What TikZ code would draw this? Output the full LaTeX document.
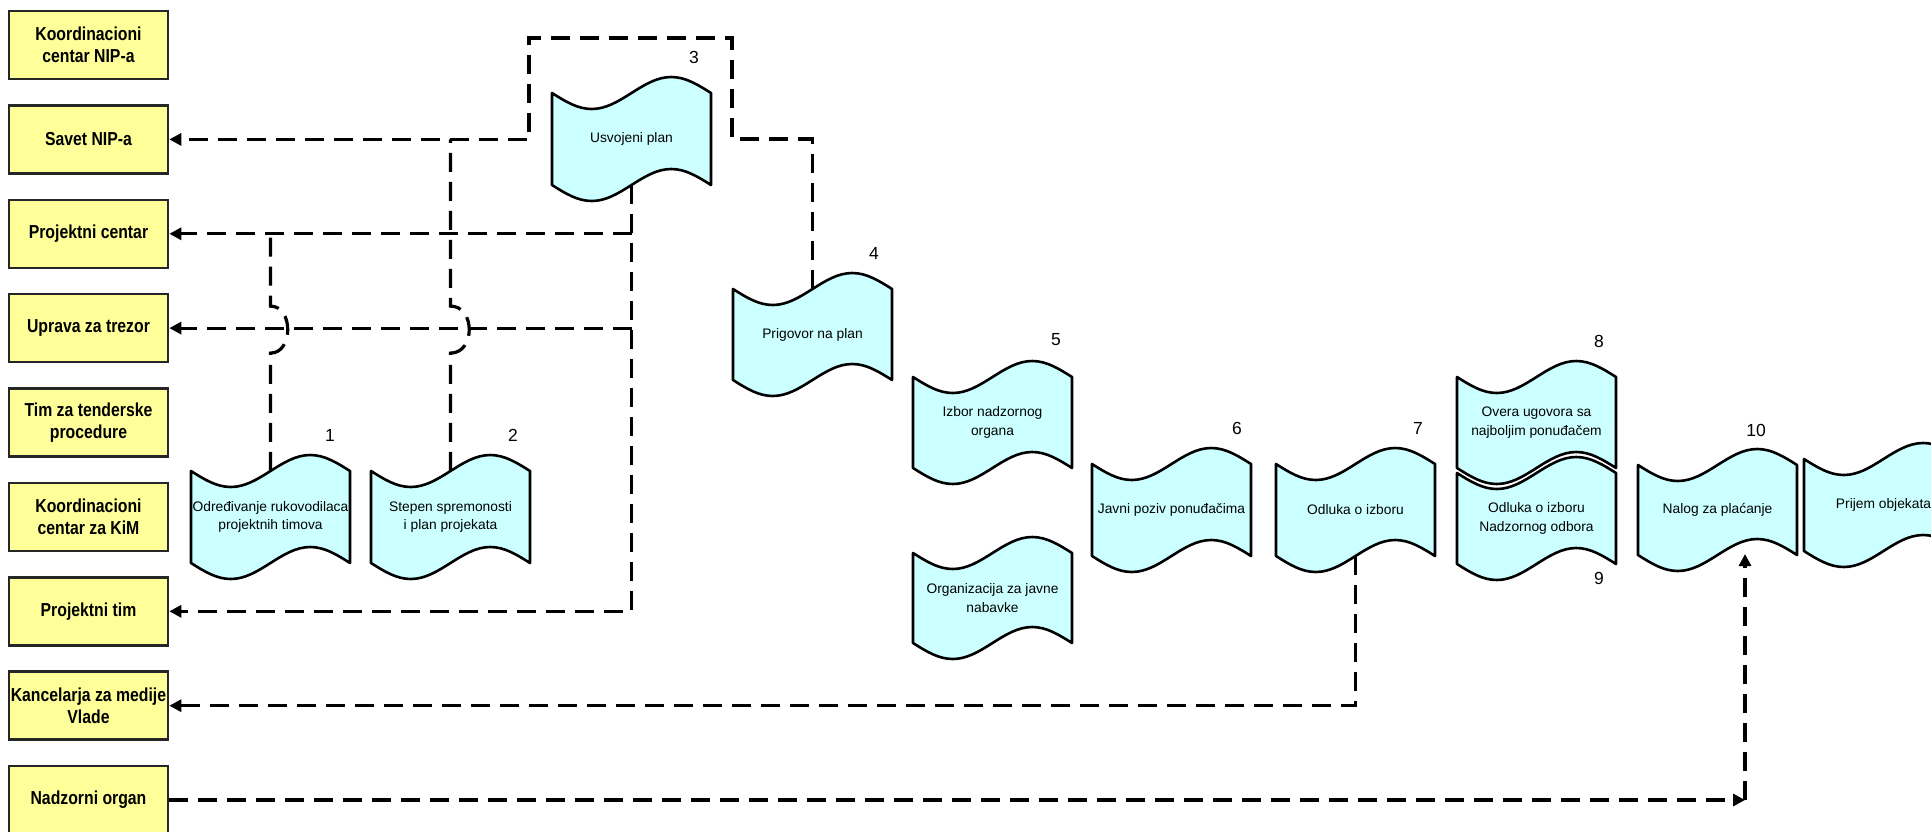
\documentclass[tikz,border=0pt]{standalone}
\usepackage{fontspec}
\setmainfont{Liberation Sans}
\newfontfamily\boxfont[FakeStretch=0.84]{Liberation Sans}
\usetikzlibrary{arrows.meta,calc}
\definecolor{boxyellow}{HTML}{FFFF99}
\definecolor{tapecyan}{HTML}{CCFFFF}
\tikzset{
  ybox/.style={draw=black!85, line width=2.6pt, fill=boxyellow,
    minimum width=159pt, minimum height=68pt, inner sep=0pt, align=center,
    font=\boxfont\bfseries\fontsize{18.8}{21.7}\selectfont},
  tapeshape/.style={draw=black, fill=tapecyan, line width=2.6pt, line join=round},
  tapetext/.style={minimum width=159pt, inner sep=0pt, align=center,
    font=\fontsize{13.8}{18.8}\selectfont},
  num/.style={font=\fontsize{17.5}{20}\selectfont, inner sep=0pt},
  dashline/.style={line width=3.2pt, dash pattern=on 19pt off 10pt},
  conn/.style={dashline, -{Triangle[length=12pt,width=12pt]}},
}
% paper-tape document: name, left x, top line, bottom line, text
\newcommand\papertape[5]{%
  \filldraw[tapeshape] (#2,#3)
    sin ({#2+39.75},{#3+16}) cos ({#2+79.5},#3)
    sin ({#2+119.25},{#3-16}) cos ({#2+159},#3)
    -- ({#2+159},#4)
    sin ({#2+119.25},{#4-16}) cos ({#2+79.5},#4)
    sin ({#2+39.75},{#4+16}) cos (#2,#4) -- cycle;
  \node[tapetext, minimum height={#4-#3}] (#1) at ({#2+79.5},{(#3+#4)/2}) {#5};
}
\begin{document}
\begin{tikzpicture}[x=1pt,y=-1pt]
\useasboundingbox (0,0) rectangle (1931,831);
\clip (0,0) rectangle (1931,831);

% participants
\node[ybox] (kc)  at (88.5,45)    {Koordinacioni\\centar NIP-a};
\node[ybox] (sv)  at (88.5,139.4) {Savet NIP-a};
\node[ybox] (pc)  at (88.5,233.8) {Projektni centar};
\node[ybox] (ut)  at (88.5,328.1) {Uprava za trezor};
\node[ybox] (tt)  at (88.5,422.5) {Tim za tenderske\\procedure};
\node[ybox] (kk)  at (88.5,516.9) {Koordinacioni\\centar za KiM};
\node[ybox] (pt)  at (88.5,611.3) {Projektni tim};
\node[ybox] (km)  at (88.5,705.7) {Kancelarja za medije\\Vlade};
\node[ybox] (no)  at (88.5,800)   {Nadzorni organ};

% documents
\papertape{d1}{191}{471}{563}{Određivanje rukovodilaca\\projektnih timova}
\papertape{d2}{371}{471}{563}{Stepen spremonosti\\i plan projekata}
\papertape{d3}{552}{93}{185}{Usvojeni plan}
\papertape{d4}{733}{289}{380}{Prigovor na plan}
\papertape{d5}{913}{377}{468}{Izbor nadzornog\\organa}
\papertape{dj}{913}{553}{643}{Organizacija za javne\\nabavke}
\papertape{d6}{1092}{464}{556}{Javni poziv ponuđačima}
\papertape{d7}{1276}{464}{556}{Odluka o izboru}
\papertape{d8}{1457}{377}{468}{Overa ugovora sa\\najboljim ponuđačem}
\papertape{d9}{1457}{473}{564}{Odluka o izboru\\Nadzornog odbora}
\papertape{d10}{1638}{465}{555}{Nalog za plaćanje}
\papertape{d11}{1804}{459}{551}{Prijem objekata}

% step numbers
\node[num] (n1)  at (330,435)  {1};
\node[num] (n2)  at (513,435)  {2};
\node[num] (n3)  at (694,57)   {3};
\node[num] (n4)  at (874,253)  {4};
\node[num] (n5)  at (1056,340) {5};
\node[num] (n6)  at (1237,428) {6};
\node[num] (n7)  at (1418,428) {7};
\node[num] (n8)  at (1599,341) {8};
\node[num] (n9)  at (1599,578) {9};
\node[num] (n10) at (1756,430) {10};

% loop from the objection round the adopted plan to the council
\coordinate (q1) at (732,139);
\coordinate (q2) at (732,38);
\coordinate (q3) at (529,38);
\draw[conn] (d4.north) |- (q1) -- (q2) -- (q3) |- (sv.east);

% adopted plan distributed to the teams
\draw[conn] (d3.south) |- (pt.east);
\draw[conn] (d3.south |- pc.east) -- (pc.east);
\draw[conn] (d3.south |- ut.east) -- (ut.east);

% branches from documents 1 and 2, jumping over the treasury line
\draw[dashline] (d1.north) -- ($(d1.north |- ut.east)+(0,25)$)
  .. controls +(23,0) and +(23,0) .. ($(d1.north |- ut.east)+(0,-22)$)
  -- (d1.north |- pc.east);
\draw[dashline] (d2.north) -- ($(d2.north |- ut.east)+(0,25)$)
  .. controls +(25,0) and +(25,0) .. ($(d2.north |- ut.east)+(0,-22)$)
  -- (d2.north |- sv.east);

% decision to the media office
\draw[conn] (d7.south) |- (km.east);

% supervisory body to the payment order
\coordinate (nc) at (1745,800);
\coordinate (d10in) at (1745,554);
\draw[conn] (no.east) -- (nc);
\draw[conn] (nc) -- (d10in);
\end{tikzpicture}
\end{document}
